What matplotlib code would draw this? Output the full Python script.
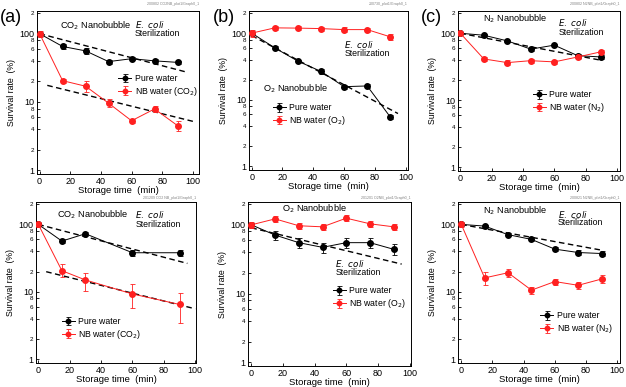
import matplotlib
matplotlib.use("Agg")
import matplotlib.pyplot as plt

plt.rcParams["font.family"] = ["Liberation Sans", "DejaVu Sans"]

# storage times
t7 = [0, 15, 30, 45, 60, 75, 90]
t5 = [0, 15, 30, 60, 90]

# (a) CO2, top
pure_a1 = [100, 65, 56, 39, 43, 40, 38]
pure_a1_err = [4, 6, 6, 2.5, 2.5, 3, 2]
nb_a1 = [100, 20.5, 17, 9.6, 5.3, 7.9, 4.5]
nb_a1_err = [10, 1.5, 3, 1.3, 0.4, 0.8, 0.8]
fit_a1_pure = ([0, 95], [100, 27.7])
fit_a1_nb = ([5, 100], [17.5, 5.2])

# (b) O2, top
pure_b1 = [100, 60, 38, 26.6, 15.7, 16.1, 5.5]
pure_b1_err = [5, 3, 2, 2.5, 1, 1, 0.4]
nb_b1 = [100, 120, 119, 117, 113, 113, 88]
nb_b1_err = [12, 10, 8, 8, 10, 8, 8]
fit_b1_pure = ([0, 95], [92, 6.2])

# (c) N2, top
pure_c1 = [100, 93.5, 77, 58, 66.5, 46.3, 44.3]
pure_c1_err = [4, 4, 3, 3, 3, 3, 3]
nb_c1 = [100, 41.4, 36.5, 39, 37.4, 44.3, 53]
nb_c1_err = [5, 3, 3, 3, 3, 3, 4]
fit_c1_pure = ([0, 90], [100, 39.5])

# (a) CO2, bottom
pure_a2 = [100, 56.6, 72.7, 38, 38]
pure_a2_err = [5, 4, 5, 4, 4]
nb_a2 = [100, 20.6, 15, 9.3, 6.5]
nb_a2_lo = [10, 3.9, 4.6, 3.6, 3.0]
nb_a2_hi = [10, 5.4, 4.2, 3.6, 3.0]
fit_a2_pure = ([0, 95], [100, 26.4])
fit_a2_nb = ([5, 100], [19.9, 5.6])

# (b) O2, bottom
pure_b2 = [100, 71, 55, 47, 55, 55, 44]
pure_b2_err = [5, 10, 9, 8, 9, 9, 8]
nb_b2 = [100, 122, 97, 93.5, 125, 103.5, 93.5]
nb_b2_err = [10, 12, 10, 10, 12, 10, 10]
fit_b2_pure = ([0, 95], [90.5, 26.8])

# (c) N2, bottom
pure_c2 = [100, 94.5, 70.5, 60, 43, 38.3, 37]
pure_c2_err = [4, 5, 4, 4, 3, 3, 3]
nb_c2 = [100, 16.1, 19.2, 10.6, 14.2, 12.5, 15.5]
nb_c2_err = [8, 3.5, 2.5, 1.3, 1.5, 1.5, 2]
fit_c2_pure = ([0, 90], [100, 41.5])

ytick_vals = [1, 2, 4, 6, 8, 10, 20, 40, 60, 80, 100, 200]
ytick_labels = ["1", "2", "4", "6", "8", "10", "2", "4", "6", "8", "100", "2"]

W, H = 626, 387
fig = plt.figure(figsize=(W / 100, H / 100), dpi=100)


def make_ax(left, right, top, bottom, xlim):
    ax = fig.add_axes([left / W, 1 - bottom / H, (right - left) / W, (bottom - top) / H])
    ax.set_yscale("log")
    ax.set_ylim(0.88, 215)
    ax.set_xlim(*xlim)
    ax.set_xticks([0, 20, 40, 60, 80, 100])
    ax.set_yticks(ytick_vals)
    ax.set_yticklabels(ytick_labels)
    ax.yaxis.set_minor_locator(matplotlib.ticker.NullLocator())
    ax.tick_params(direction="in", length=2.5, width=0.6, labelsize=6.5, pad=2)
    for lab, v in zip(ax.get_yticklabels(), ytick_vals):
        if v not in (1, 10, 100):
            lab.set_fontsize(4.5)
    for sp in ax.spines.values():
        sp.set_linewidth(0.7)
    ax.set_xlabel("Storage time  (min)", fontsize=6.8, labelpad=0.5)
    ax.set_ylabel("Survival rate  (%)", fontsize=6.3, labelpad=2)
    return ax


def draw(ax, t, pure, pure_err, nb, nb_err, nb_label, fits):
    ax.errorbar(t, pure, yerr=pure_err, color="black", marker="o", ms=4, lw=0.7,
                elinewidth=0.6, capsize=1.8, capthick=0.6, label="Pure water", zorder=3)
    ax.errorbar(t, nb, yerr=nb_err, color="#ff2020", marker="o", ms=4, lw=0.7,
                elinewidth=0.6, capsize=1.8, capthick=0.6, label=nb_label, zorder=4)
    for fx, fy in fits:
        ax.plot(fx, fy, color="black", ls=(0, (4, 2.5)), lw=1.0, zorder=2)


def legend(ax, x, y):
    # y is the centre of the first entry (axes fraction)
    ax.legend(loc="upper left", bbox_to_anchor=(x, y + 0.03), frameon=False, fontsize=6.3,
              handlelength=1.5, handletextpad=0.4, labelspacing=0.2, borderaxespad=0,
              borderpad=0, numpoints=1, markerscale=0.8)


def label(ax, x, y, s):
    ax.text(x, y, s, fontsize=6.6, transform=ax.transAxes, va="center")


def ecoli(ax, x, y1, y2):
    ax.text(x, y1, "$\\it{E.\\ coli}$", fontsize=6.3, transform=ax.transAxes, va="center")
    ax.text(x, y2, "Sterilization", fontsize=6.3, transform=ax.transAxes, va="center")


def header(x, y, s):
    fig.text(x / W, 1 - y / H, s, fontsize=2.6, color="gray", ha="right", va="center")


# ---- top row ----
ax = make_ax(37, 199, 11, 174, (-1.7, 104))
draw(ax, t7, pure_a1, pure_a1_err, nb_a1, nb_a1_err, "NB water (CO$_2$)", [fit_a1_pure, fit_a1_nb])
label(ax, 0.14, 0.91, "CO$_2$ Nanobubble")
ecoli(ax, 0.605, 0.915, 0.86)
legend(ax, 0.5, 0.583)
header(199, 4, "200802 CO2NB_plot1/Graph0_1")

ax = make_ax(249, 408, 11, 170, (-1.75, 101.5))
draw(ax, t7, pure_b1, pure_b1_err, nb_b1, nb_b1_err, "NB water (O$_2$)", [fit_b1_pure])
label(ax, 0.09, 0.51, "O$_2$ Nanobubble")
ecoli(ax, 0.6, 0.79, 0.73)
legend(ax, 0.15, 0.39)
header(408, 4, "200730_plot1/Graph0_1")

ax = make_ax(458, 620, 11, 171, (-1.5, 102))
draw(ax, t7, pure_c1, pure_c1_err, nb_c1, nb_c1_err, "NB water (N$_2$)", [fit_c1_pure])
label(ax, 0.155, 0.95, "N$_2$ Nanobubble")
ecoli(ax, 0.62, 0.925, 0.867)
legend(ax, 0.46, 0.475)
header(620, 4, "200802 N2NB_plot1/Graph0_1")

# ---- bottom row ----
ax = make_ax(36, 196, 202, 363, (-1.5, 100.5))
draw(ax, t5, pure_a2, pure_a2_err, nb_a2, [nb_a2_lo, nb_a2_hi], "NB water (CO$_2$)", [fit_a2_pure, fit_a2_nb])
label(ax, 0.13, 0.92, "CO$_2$ Nanobubble")
ecoli(ax, 0.62, 0.92, 0.863)
legend(ax, 0.16, 0.256)
header(196, 198, "201209 CO2 NB_plot1/Graph0_1")

ax = make_ax(248, 411, 202, 366, (-2.1, 100.9))
draw(ax, t7, pure_b2, pure_b2_err, nb_b2, nb_b2_err, "NB water (O$_2$)", [fit_b2_pure])
label(ax, 0.207, 0.957, "O$_2$ Nanobubble")
ecoli(ax, 0.535, 0.628, 0.568)
legend(ax, 0.52, 0.455)
header(411, 198, "201201 O2NB_plot1/Graph0_1")

ax = make_ax(458, 620, 202, 363, (-2.1, 101.8))
draw(ax, t7, pure_c2, pure_c2_err, nb_c2, nb_c2_err, "NB water (N$_2$)", [fit_c2_pure])
label(ax, 0.152, 0.946, "N$_2$ Nanobubble")
ecoli(ax, 0.617, 0.925, 0.87)
legend(ax, 0.506, 0.29)
header(620, 198, "200821 N2NB_plot1/Graph0_1")

# panel letters
fig.text(0 / W, 1 - 18 / H, "(a)", fontsize=13, va="center")
fig.text(213 / W, 1 - 18 / H, "(b)", fontsize=13, va="center")
fig.text(421 / W, 1 - 18 / H, "(c)", fontsize=13, va="center")

fig.savefig("out.png", dpi=100)
